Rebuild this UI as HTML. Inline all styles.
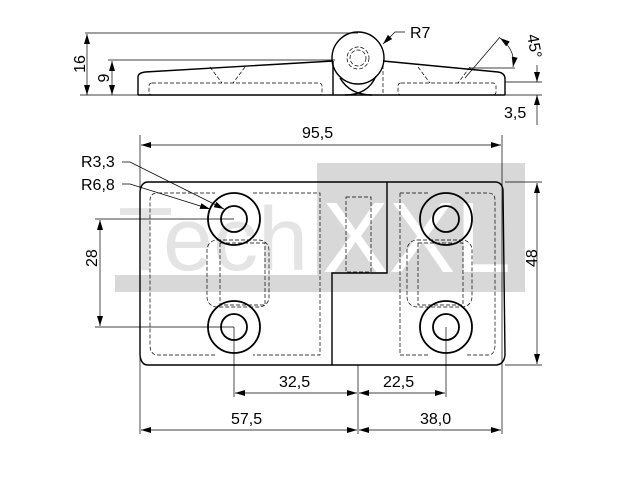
<!DOCTYPE html>
<html><head><style>body{margin:0;background:#fff}svg{display:block}text{font-family:"Liberation Sans",sans-serif;font-size:16px;fill:#000}</style></head><body>
<svg width="640" height="480" viewBox="0 0 640 480" xmlns="http://www.w3.org/2000/svg">
<defs><marker id="a" viewBox="0 0 10 6" refX="10" refY="3" markerWidth="10" markerHeight="6" orient="auto-start-reverse" markerUnits="userSpaceOnUse"><path d="M0,0L10,3L0,6z" fill="#000"/></marker></defs>
<rect x="317" y="163" width="208" height="129" fill="#d8d8d8"/>
<rect x="115" y="275" width="210" height="17" fill="#d8d8d8"/>
<text x="118" y="270" style="font-size:90px;fill:#e4e4e4">Tech</text>
<text x="322" y="272" style="font-size:100px;fill:#fff">XXL</text>
<g fill="none" stroke="#000" stroke-width="1.4">
<path d="M138,95 L138,77 Q138,73 145,72 L333,61"/>
<path d="M383,61 L498,72 Q505,73 505,79 L505,95"/>
<line x1="138" y1="95" x2="505" y2="95"/>
<circle cx="358" cy="58" r="26"/>
<path d="M333,61 L333,95 M340,78 Q350,95 372,95 M376,76 Q368,95 345,95"/>
</g>
<g fill="none" stroke="#000" stroke-width="0.7" stroke-dasharray="4,2">
<circle cx="358" cy="58" r="11"/><circle cx="358" cy="58" r="8"/>
<rect x="149" y="83" width="173" height="12" rx="3"/>
<rect x="398" y="83" width="98" height="12" rx="3"/>
<path d="M210,67 L222,83 M245,67 L233,83 M418,67 L430,83 M470,67 L458,83"/>
<line x1="383" y1="65" x2="383" y2="95"/>
</g>
<g stroke="#000" stroke-width="0.7" fill="none">
<line x1="85" y1="33" x2="358" y2="33"/><line x1="108" y1="60" x2="335" y2="60"/>
<line x1="87" y1="34" x2="87" y2="95" marker-start="url(#a)" marker-end="url(#a)"/>
<line x1="112" y1="61" x2="112" y2="95" marker-start="url(#a)" marker-end="url(#a)"/>
<line x1="80" y1="95" x2="138" y2="95"/>
<line x1="505" y1="82" x2="542" y2="82"/><line x1="505" y1="95" x2="542" y2="95"/>
<line x1="537" y1="65" x2="537" y2="82" marker-end="url(#a)"/>
<line x1="537" y1="112" x2="537" y2="95" marker-end="url(#a)"/>
<line x1="537" y1="112" x2="537" y2="125"/>
<path d="M405,32 L395,32 L383,44" marker-end="url(#a)"/>
<line x1="465" y1="78" x2="500" y2="37"/><line x1="470" y1="68" x2="515" y2="68"/>
<path d="M500,38 Q516,50 513,67" marker-start="url(#a)" marker-end="url(#a)"/>
</g>
<text x="77" y="72" transform="rotate(-90 77 64)" text-anchor="middle">16</text>
<text x="103" y="84" transform="rotate(-90 103 78)" text-anchor="middle">9</text>
<text x="410" y="38">R7</text>
<text x="507" y="35" transform="rotate(80 517 47)">45°</text>
<text x="504" y="118">3,5</text>
<g fill="none" stroke="#000" stroke-width="1.4">
<path d="M148,182 L495,182 Q502,182 503,190 L505,355 Q504,365 495,365 L148,365 Q141,365 140,355 L140,192 Q141,182 148,182 Z"/>
<path d="M387,182 L387,273 L332,273 L332,365"/>
</g>
<g fill="none" stroke="#000" stroke-width="1.8">
<circle cx="234" cy="219" r="26"/><circle cx="234" cy="219" r="13"/>
<circle cx="234" cy="327" r="26"/><circle cx="234" cy="327" r="13"/>
<circle cx="446" cy="219" r="26"/><circle cx="446" cy="219" r="13"/>
<circle cx="446" cy="327" r="26"/><circle cx="446" cy="327" r="13"/>
</g>
<g fill="none" stroke="#000" stroke-width="0.7" stroke-dasharray="4,2">
<path d="M158,193 L215,193 M253,193 L320,193 L320,355 L253,355 M215,355 L158,355 Q150,355 150,345 L150,200 Q150,193 158,193"/>
<rect x="207" y="240" width="62" height="67" rx="10"/>
<rect x="220" y="243" width="45" height="62"/>
<rect x="346" y="197" width="25" height="75"/>
<path d="M400,193 L428,193 M465,193 L488,193 Q495,193 495,200 L495,345 Q495,355 488,355 L465,355 M428,355 L400,355 L400,193"/>
<rect x="407" y="240" width="65" height="67" rx="10"/>
<rect x="418" y="243" width="45" height="62"/>
</g>
<g stroke="#000" stroke-width="0.7" fill="none">
<line x1="140" y1="135" x2="140" y2="434"/><line x1="502" y1="135" x2="502" y2="434"/>
<line x1="141" y1="145" x2="501" y2="145" marker-start="url(#a)" marker-end="url(#a)"/>
<line x1="505" y1="182" x2="542" y2="182"/><line x1="505" y1="365" x2="542" y2="365"/>
<line x1="537" y1="183" x2="537" y2="364" marker-start="url(#a)" marker-end="url(#a)"/>
<line x1="95" y1="219" x2="234" y2="219"/><line x1="95" y1="327" x2="234" y2="327"/>
<line x1="100" y1="220" x2="100" y2="326" marker-start="url(#a)" marker-end="url(#a)"/>
<line x1="234" y1="327" x2="234" y2="397"/><line x1="446" y1="327" x2="446" y2="397"/>
<line x1="358" y1="365" x2="358" y2="434"/>
<line x1="235" y1="393" x2="357" y2="393" marker-start="url(#a)" marker-end="url(#a)"/>
<line x1="359" y1="393" x2="445" y2="393" marker-start="url(#a)" marker-end="url(#a)"/>
<line x1="141" y1="430" x2="357" y2="430" marker-start="url(#a)" marker-end="url(#a)"/>
<line x1="359" y1="430" x2="501" y2="430" marker-start="url(#a)" marker-end="url(#a)"/>
<path d="M122,162 L130,162 L224,209" marker-end="url(#a)"/>
<path d="M122,184 L130,184 L210,209" marker-end="url(#a)"/>
</g>
<text x="302" y="138">95,5</text>
<text x="81" y="167">R3,3</text>
<text x="81" y="190">R6,8</text>
<text x="96" y="280" transform="rotate(-90 90 273)">28</text>
<text x="536" y="280" transform="rotate(-90 530 273)">48</text>
<text x="279" y="387">32,5</text>
<text x="383" y="387">22,5</text>
<text x="231" y="424">57,5</text>
<text x="420" y="424">38,0</text>
</svg>
</body></html>
